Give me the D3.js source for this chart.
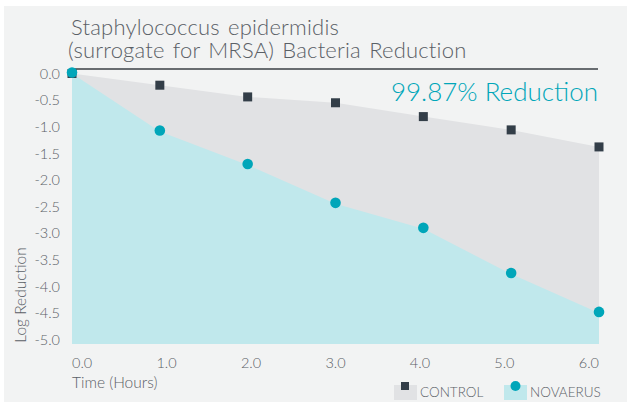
<!DOCTYPE html>
<html>
<head>
<meta charset="utf-8">
<title>Bacteria Reduction</title>
<script src="https://cdn.jsdelivr.net/npm/d3@7"></script>
<style>
	body{
		margin: 0;
		background: #ffffff;
		font-family: Lato, "Open Sans", sans-serif;
	}
	svg text{
		font-weight: 400;
	}
	svg text.light{
		font-weight: 300;
	}
</style>
</head>
<body>
<svg id="chart" width="627" height="402"></svg>
<script>
// chart data
var hours = [0, 1, 2, 3, 4, 5, 6];
var xTickLabels = ["0.0", "1.0", "2.0", "3.0", "4.0", "5.0", "6.0"];
var yTicks = [0, -0.5, -1, -1.5, -2, -2.5, -3, -3.5, -4, -4.5, -5];
var control = [0, -0.22, -0.44, -0.55, -0.81, -1.06, -1.38];
var novaerus = [0, -1.09, -1.72, -2.45, -2.92, -3.77, -4.50];
var seriesNames = ["CONTROL", "NOVAERUS"];

var svg = d3.select("#chart");

var grey = "#e1e2e4",
	cyan = "#c0e8ec",
	dark = "#333e48",
	teal = "#00a6b9",
	textGrey = "#5a6066";

// background panel
svg.append("rect")
	.attr("x", 4).attr("y", 6)
	.attr("width", 623).attr("height", 396)
	.attr("fill", "#f2f3f3");

var x = d3.scaleLinear().domain([0, 6]).range([72, 599]);
var y = d3.scaleLinear().domain([0, -5]).range([73.5, 339.5]);
var bottom = 344;

// areas
var controlArea = d3.area()
	.x(function(d, i){ return x(hours[i]); })
	.y0(bottom)
	.y1(function(d){ return y(d); });

svg.append("path")
	.datum(control)
	.attr("d", controlArea)
	.attr("fill", grey);

svg.append("path")
	.datum(novaerus)
	.attr("d", controlArea)
	.attr("fill", cyan);

// y axis labels
svg.selectAll(".ytick")
	.data(yTicks)
	.enter().append("text")
	.attr("class", "ytick light")
	.attr("x", 60)
	.attr("y", function(d){ return y(d); })
	.attr("dy", "0.36em")
	.attr("text-anchor", "end")
	.attr("font-size", 14.5)
	.attr("fill", textGrey)
	.text(function(d){ return d3.format(".1f")(d).replace("\u2212", "-"); });

// x axis labels, anchor slides from start to end across the axis
svg.selectAll(".xtick")
	.data(hours)
	.enter().append("text")
	.attr("class", "xtick light")
	.attr("y", 368)
	.attr("font-size", 14.5)
	.attr("fill", textGrey)
	.text(function(d, i){ return xTickLabels[i]; })
	.attr("x", function(d, i){
		var w = this.getComputedTextLength();
		return x(d) - w * i / (hours.length - 1);
	});

svg.append("text")
	.attr("class", "light")
	.attr("x", 72).attr("y", 388)
	.attr("font-size", 15.5)
	.attr("fill", textGrey)
	.text("Time (Hours)");

svg.append("text")
	.attr("class", "light")
	.attr("transform", "translate(26,295) rotate(-90)")
	.attr("text-anchor", "middle")
	.attr("font-size", 15.5)
	.attr("fill", textGrey)
	.text("Log Reduction");

// title
svg.append("text")
	.attr("class", "light")
	.attr("x", 71).attr("y", 35)
	.attr("font-size", 22)
	.attr("word-spacing", 2)
	.attr("letter-spacing", 0.2)
	.attr("fill", textGrey)
	.text("Staphylococcus epidermidis");
svg.append("text")
	.attr("class", "light")
	.attr("x", 68).attr("y", 58)
	.attr("font-size", 22)
	.attr("word-spacing", 2)
	.attr("letter-spacing", 0.2)
	.attr("fill", textGrey)
	.text("(surrogate for MRSA) Bacteria Reduction");

svg.append("line")
	.attr("x1", 72).attr("x2", 598)
	.attr("y1", 69).attr("y2", 69)
	.attr("stroke", "#3a3f44")
	.attr("stroke-width", 1.3);

svg.append("text")
	.attr("class", "light")
	.attr("x", 598).attr("y", 101)
	.attr("text-anchor", "end")
	.attr("font-size", 26)
	.attr("fill", teal)
	.text("99.87% Reduction");

// markers
svg.selectAll(".sq")
	.data(control)
	.enter().append("rect")
	.attr("class", "sq")
	.attr("x", function(d, i){ return x(hours[i]) - 4.5; })
	.attr("y", function(d){ return y(d) - 4.5; })
	.attr("width", 9).attr("height", 9)
	.attr("fill", dark);

svg.selectAll(".dot")
	.data(novaerus)
	.enter().append("circle")
	.attr("class", "dot")
	.attr("cx", function(d, i){ return x(hours[i]); })
	.attr("cy", function(d){ return y(d) - 1; })
	.attr("r", 5.3)
	.attr("fill", teal);

// legend
var legend = svg.selectAll(".legend")
	.data(seriesNames)
	.enter().append("g")
	.attr("class", "legend")
	.attr("transform", function(d, i){ return "translate(" + (394 + i * 110) + ",383)"; });

legend.append("rect")
	.attr("width", 23).attr("height", 15)
	.attr("y", 2)
	.attr("fill", function(d, i){ return i == 0 ? grey : cyan; });

legend.each(function(d, i){
	var g = d3.select(this);
	if (i == 0) {
		g.append("rect").attr("x", 7).attr("y", -1).attr("width", 8).attr("height", 8).attr("fill", dark);
	} else {
		g.append("circle").attr("cx", 11.5).attr("cy", 3).attr("r", 5).attr("fill", teal);
	}
});

legend.append("text")
	.attr("class", "light")
	.attr("x", 26).attr("y", 14)
	.attr("font-size", 13.5)
	.attr("fill", textGrey)
	.text(function(d){ return d; });
</script>
</body>
</html>
